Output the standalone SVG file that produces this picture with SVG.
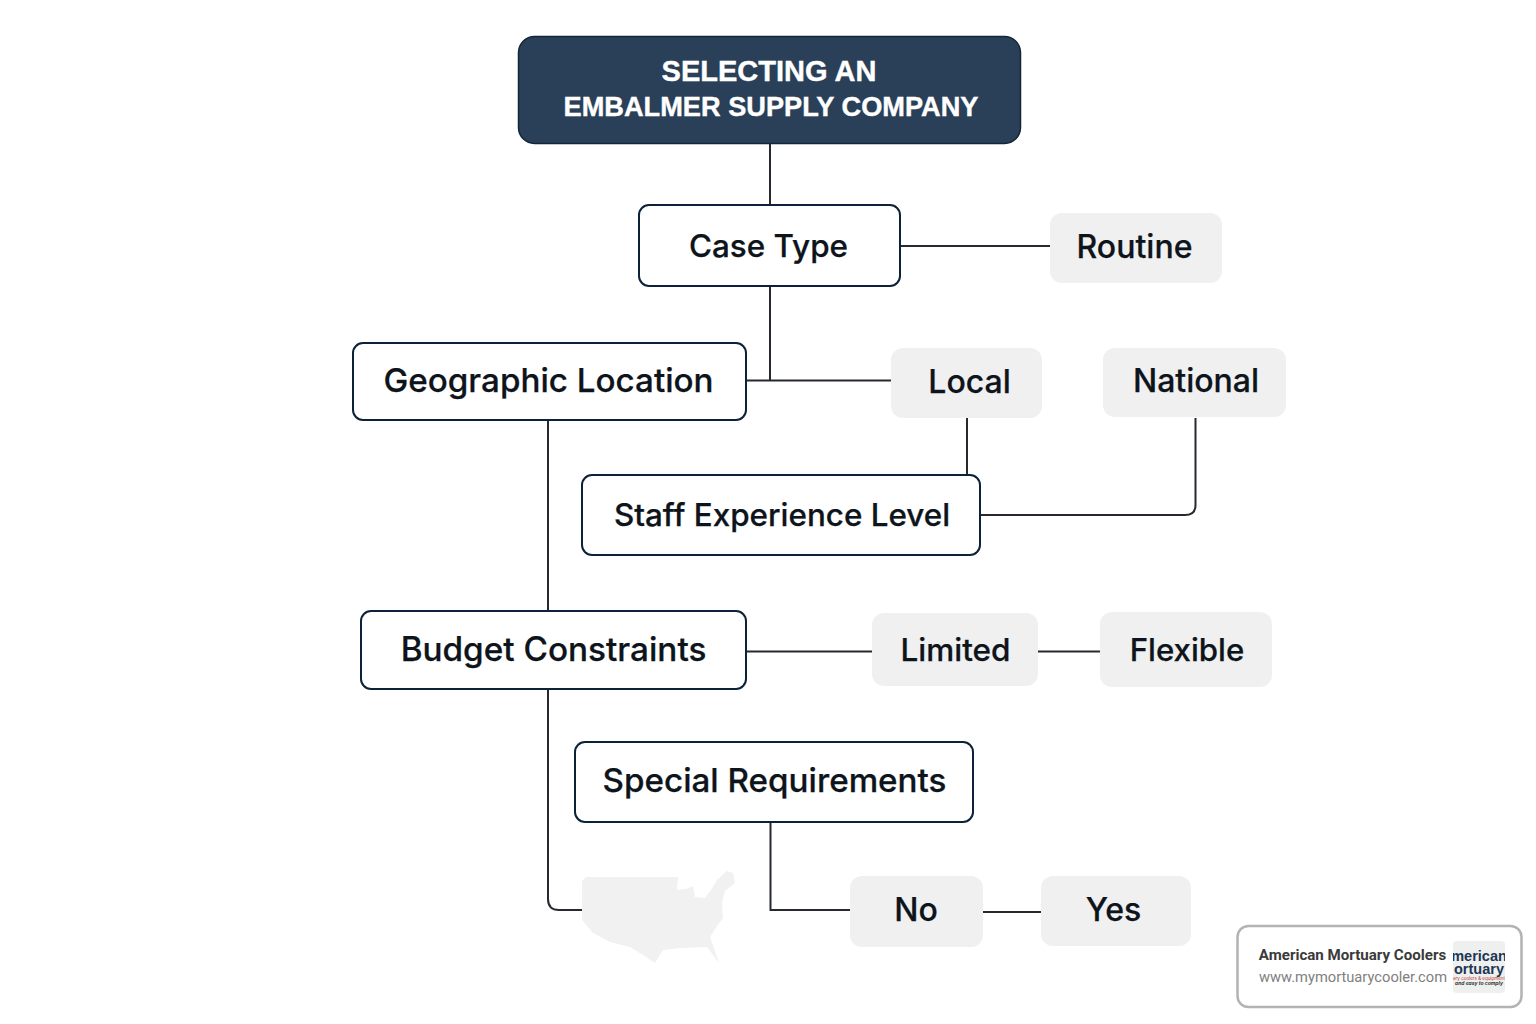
<svg xmlns="http://www.w3.org/2000/svg" width="1536" height="1024" viewBox="0 0 1536 1024">
<style>
text{font-family:Inter,"Liberation Sans",sans-serif;text-anchor:middle}
.c{fill:none;stroke:#26292e;stroke-width:2}
.n{fill:#fff;stroke:#0b2238;stroke-width:2}
.o{fill:#f0f0f0}
.t{font-size:32px;font-weight:500;fill:#0e141b;stroke:#0e141b;stroke-width:.25}
.h{font-size:29px;font-weight:700;fill:#fff;stroke:#fff;stroke-width:.4;font-family:"Liberation Sans",Arial,sans-serif}
.l{font-family:"Liberation Sans",sans-serif;font-size:14.500px;font-weight:700;fill:#1f3554}
</style>
<defs><clipPath id="lg"><rect x="1453" y="941" width="52" height="52" rx="4"/></clipPath>
<filter id="soft" x="-5%" y="-5%" width="110%" height="110%"><feGaussianBlur stdDeviation="0.7"/></filter></defs>
<rect width="1536" height="1024" fill="#fff"/>
<g id="connectors">
<path class="c" d="M770 144V205"/>
<path class="c" d="M900 246H1050"/>
<path class="c" d="M770 287V380"/>
<path class="c" d="M746 380.500H891"/>
<path class="c" d="M967 418V475"/>
<path class="c" d="M981 515H1185Q1195.500 515 1195.500 505V418"/>
<path class="c" d="M548 421V611"/>
<path class="c" d="M746 651.500H872"/>
<path class="c" d="M1038 651.500H1100"/>
<path class="c" d="M548 690V899Q548 910 559 910H582"/>
<path class="c" d="M770.500 822V910H850"/>
<path class="c" d="M983 912H1041"/>
</g>
<g id="title"><rect x="518.500" y="36.500" width="502" height="107" rx="16" fill="#2a3f58" stroke="#14263a" stroke-width="1.500"/>
<text class="h" x="769" y="81">SELECTING AN</text><text class="h" x="771" y="116" style="font-size:27.200px">EMBALMER SUPPLY COMPANY</text></g>
<g id="case-type"><rect class="n" x="639" y="205" width="261" height="81" rx="10"/><text class="t" x="768.500" y="257" style="font-size:31.400px">Case Type</text></g>
<g id="routine"><rect class="o" x="1050" y="213" width="172" height="70" rx="12"/><text class="t" x="1134.500" y="258">Routine</text></g>
<g id="geographic-location"><rect class="n" x="353" y="343" width="393" height="77" rx="10"/><text class="t" x="548.500" y="392" style="font-size:33.200px">Geographic Location</text></g>
<g id="local"><rect class="o" x="891" y="348" width="151" height="70" rx="12"/><text class="t" x="969.500" y="393">Local</text></g>
<g id="national"><rect class="o" x="1103" y="348" width="183" height="69" rx="12"/><text class="t" x="1196" y="392">National</text></g>
<g id="staff-experience-level"><rect class="n" x="582" y="475" width="398" height="80" rx="10"/><text class="t" x="782" y="526" style="font-size:31.400px">Staff Experience Level</text></g>
<g id="budget-constraints"><rect class="n" x="361" y="611" width="385" height="78" rx="10"/><text class="t" x="553.500" y="661" style="font-size:33.300px">Budget Constraints</text></g>
<g id="limited"><rect class="o" x="872" y="613" width="166" height="73" rx="12"/><text class="t" x="955.500" y="661" style="font-size:31.500px">Limited</text></g>
<g id="flexible"><rect class="o" x="1100" y="612" width="172" height="75" rx="12"/><text class="t" x="1187" y="661" style="font-size:31.200px">Flexible</text></g>
<g id="special-requirements"><rect class="n" x="575" y="742" width="398" height="80" rx="10"/><text class="t" x="774.500" y="792" style="font-size:33.200px">Special Requirements</text></g>
<g id="no"><rect class="o" x="850" y="876" width="133" height="71" rx="12"/><text class="t" x="916" y="921">No</text></g>
<g id="yes"><rect class="o" x="1041" y="876" width="150" height="70" rx="12"/><text class="t" x="1113.500" y="921">Yes</text></g>
<g id="map"><path fill="#f1f1f1" filter="url(#soft)" d="M586 877H678L677 890L686 889L693 886L695 897L705 898L711 890L717 880L727 871L733 873L735 883L725 891L722 903L723 918L717 926L710 937L719 963L707 947L680 948L663 950L655 963L643 955L630 947L610 942L593 933L582 920V881Z"/></g>
<g id="badge"><rect x="1237.500" y="926" width="284" height="81" rx="11" fill="#fff" stroke="#b3b3b3" stroke-width="2.500"/>
<text x="1352.500" y="960" style="font-family:Roboto,sans-serif;font-size:15.100px;font-weight:700;fill:#3a3a3a">American Mortuary Coolers</text>
<text x="1353" y="982" style="font-family:Roboto,sans-serif;font-size:14.700px;fill:#808080">www.mymortuarycooler.com</text>
<rect x="1453" y="941" width="52" height="52" rx="4" fill="#eef0f0"/>
<g clip-path="url(#lg)"><text class="l" x="1479" y="961">merican</text>
<text class="l" x="1479" y="974">ortuary</text>
<text x="1479" y="979.500" style="font-size:4.500px;fill:#c0392b">ary coolers &amp; equipment</text>
<text x="1479" y="985" style="font-size:5px;font-weight:700;font-style:italic;fill:#333">and easy to comply</text></g></g>
</svg>
